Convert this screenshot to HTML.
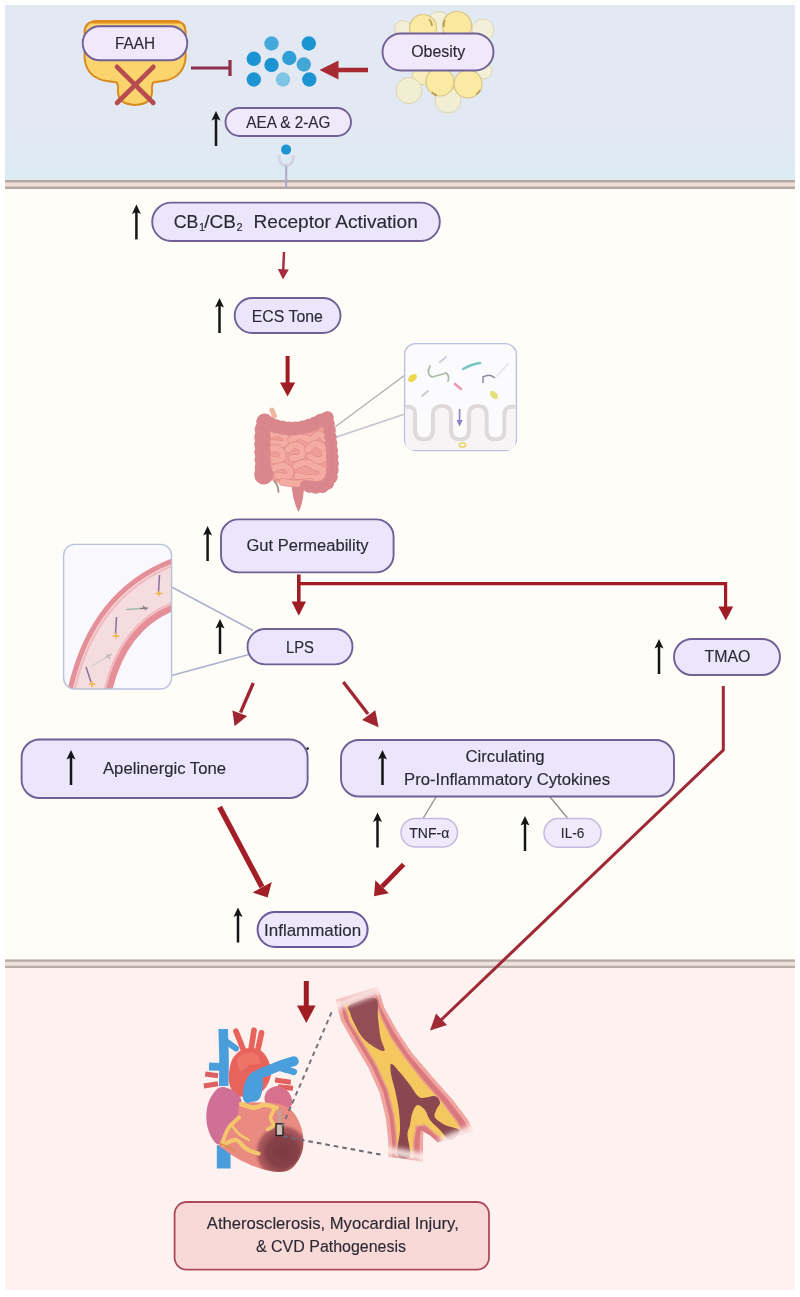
<!DOCTYPE html>
<html lang="en">
<head>
<meta charset="utf-8">
<title>Endocannabinoid system, gut permeability and CVD pathogenesis</title>
<style>
html,body{margin:0;padding:0;background:#fff;}
body{width:800px;height:1297px;overflow:hidden;}
svg{display:block;font-family:"Liberation Sans",sans-serif;filter:blur(.5px);}
.lbl{fill:#2b2a33;text-anchor:middle;stroke:#2b2a33;stroke-width:.14px;}
.pill{fill:#ebe6fb;stroke:#716096;stroke-width:1.9;}
.pill2{fill:#efeafb;stroke:#c3badf;stroke-width:1.5;}
.up{stroke:#151515;stroke-width:2.6;fill:none;}
.uph{fill:#151515;}
.red{stroke:#9f2430;fill:none;}
.redh{fill:#9f2430;}
</style>
</head>
<body>
<svg width="800" height="1297" viewBox="0 0 800 1297">
<defs>
  <linearGradient id="skyG" x1="0" y1="0" x2="0" y2="1"><stop offset="0" stop-color="#e2e9f2"/><stop offset=".7" stop-color="#e2e9f2"/><stop offset="1" stop-color="#dcebf3"/></linearGradient>
  <symbol id="upArrow" overflow="visible">
    <path d="M0 35 L0 6" stroke="#151515" stroke-width="2.5" fill="none"/>
    <path d="M-4.5 9.6 L0 0 L4.5 9.6 L0 7.6 Z" fill="#151515"/>
  </symbol>
  <filter id="soft1" x="-30%" y="-30%" width="160%" height="160%"><feGaussianBlur stdDeviation="1.6"/></filter>
  <filter id="soft" x="-20%" y="-20%" width="140%" height="140%"><feGaussianBlur stdDeviation="0.7"/></filter>
</defs>

<!-- ===== backgrounds ===== -->
<g id="bg">
  <rect x="0" y="0" width="800" height="1297" fill="#ffffff"/>
  <rect x="5" y="5" width="790" height="176" fill="url(#skyG)"/>
  <rect x="5" y="188" width="790" height="772" fill="#fffdf8"/>
  <rect x="5" y="967" width="790" height="323" fill="#fef2f0"/>
  <!-- membranes -->
  <rect x="5" y="180" width="790" height="9" fill="#f1dcd6"/>
  <rect x="5" y="180" width="790" height="2.4" fill="#b3a6a3"/>
  <rect x="5" y="186.6" width="790" height="2.4" fill="#b3a6a3"/>
  <rect x="5" y="959" width="790" height="9" fill="#efe1dc"/>
  <rect x="5" y="959.6" width="790" height="2.2" fill="#b8aca8"/>
  <rect x="5" y="965.8" width="790" height="2.2" fill="#b8aca8"/>
</g>

<!-- ===== TOP: FAAH, endocannabinoids, obesity ===== -->
<g id="faah">
  <path d="M96 21 H176 Q185.6 22 185.6 32 V58 Q184 76 166 80.6 L153 82.6 Q151.5 86 152 91 Q152.5 104 135 105 Q117.5 104 118 91 Q118.5 86 117 82.6 L104 80.6 Q86 76 84.6 58 V32 Q84.6 22 96 21 Z" fill="#fbd46e" stroke="#d88a1e" stroke-width="2" stroke-linejoin="round"/>
  <path d="M93 22 H179" stroke="#e28c1c" stroke-width="3" fill="none" stroke-linecap="round"/>
  <rect class="pill" x="82.7" y="26.2" width="104.6" height="34" rx="17" style="fill:#f2e8fb"/>
  <text class="lbl" x="135" y="49.3" font-size="16" textLength="40" lengthAdjust="spacingAndGlyphs">FAAH</text>
  <path d="M117 66.8 L153.4 103 M153.4 66.8 L117 103" stroke="#b64b50" stroke-width="4.6" stroke-linecap="round" fill="none"/>
</g>
<g id="inhibit">
  <path d="M191 68 H229" stroke="#8e2f4c" stroke-width="2.8" fill="none"/>
  <path d="M230 60 V76" stroke="#8e2f4c" stroke-width="3.2" fill="none"/>
</g>
<g id="dots">
  <circle cx="271.5" cy="43.5" r="7.2" fill="#45a9dc"/>
  <circle cx="308.8" cy="43.5" r="7.2" fill="#1c93d2"/>
  <circle cx="253.8" cy="58.8" r="7.2" fill="#1c93d2"/>
  <circle cx="271.5" cy="65" r="7.2" fill="#1c93d2"/>
  <circle cx="289.3" cy="58" r="7.2" fill="#2f9fd6"/>
  <circle cx="303.8" cy="64.5" r="7.2" fill="#43a7d6"/>
  <circle cx="253.8" cy="79.5" r="7.2" fill="#1c93d2"/>
  <circle cx="283" cy="79.5" r="7.2" fill="#7fc3e6"/>
  <circle cx="309.3" cy="79.5" r="7.2" fill="#1c93d2"/>
</g>
<g id="obArrow">
  <path d="M368 70 H334" stroke="#a62a30" stroke-width="4.6" fill="none"/>
  <path d="M319.5 70 L338.5 60.5 L338.5 79.5 Z" fill="#a62a30"/>
</g>
<g id="fat">
  <circle cx="403" cy="29" r="8.5" fill="#f3efd6" stroke="#ddd5b4" stroke-width="1"/>
  <circle cx="439" cy="23" r="11.5" fill="#f3efd8" stroke="#ddd5b4" stroke-width="1"/>
  <circle cx="483" cy="30" r="11" fill="#f3efd8" stroke="#ddd5b4" stroke-width="1"/>
  <circle cx="423" cy="28" r="13.5" fill="#fbeaa3" stroke="#d8c588" stroke-width="1.2"/>
  <circle cx="457" cy="26" r="14.5" fill="#fbe9a0" stroke="#d8c588" stroke-width="1.2"/>
  <circle cx="484" cy="71" r="8" fill="#f3efd8" stroke="#ddd5b4" stroke-width="1"/>
  <circle cx="421" cy="76" r="9" fill="#f7ecbc" stroke="#ddd0a0" stroke-width="1"/>
  <circle cx="448" cy="100" r="13" fill="#f1eed4" stroke="#ddd5b4" stroke-width="1"/>
  <circle cx="409" cy="90.5" r="13" fill="#f1eed2" stroke="#d9d2b0" stroke-width="1"/>
  <circle cx="440" cy="82" r="14" fill="#fbeaa3" stroke="#d8c588" stroke-width="1.2"/>
  <circle cx="468" cy="84" r="14" fill="#fbeaa3" stroke="#d8c588" stroke-width="1.2"/>
  <path d="M429 19 q3 3 3 7" stroke="#b89c55" stroke-width="1.6" fill="none"/>
  <path d="M445 20 q-2 3 -1 7" stroke="#b89c55" stroke-width="1.6" fill="none"/>
  <path d="M432 92 q2 3 5 3" stroke="#b89c55" stroke-width="1.6" fill="none"/>
  <path d="M476 94 q3 -1 4 -4" stroke="#b89c55" stroke-width="1.6" fill="none"/>
  <rect class="pill" x="382.5" y="33.5" width="111" height="37" rx="18.5" style="fill:#f2e8fb"/>
  <text class="lbl" x="438.2" y="57" font-size="16.2" textLength="54" lengthAdjust="spacingAndGlyphs">Obesity</text>
</g>
<g id="aea">
  <rect class="pill" x="225.5" y="108" width="125.5" height="28" rx="14" style="fill:#f0e8fb"/>
  <text class="lbl" x="288.3" y="127.6" font-size="16" textLength="84" lengthAdjust="spacingAndGlyphs">AEA &amp; 2-AG</text>
  <use href="#upArrow" x="216" y="111"/>
  <circle cx="286.1" cy="149.6" r="5" fill="#1d94d3"/>
  <path d="M279 156.5 Q279.5 165.5 286.2 165.5 Q293 165.5 293.5 156.5" fill="none" stroke="#d3d3e5" stroke-width="3" stroke-linecap="round"/>
  <path d="M286.2 166 V188.5" stroke="#a9a9c9" stroke-width="2" fill="none"/>
</g>
<!-- SECTION:TOP-END -->
<!-- ===== MID: receptor activation, ECS tone, gut ===== -->
<g id="cb">
  <use href="#upArrow" x="136.4" y="204.4"/>
  <rect class="pill" x="152.2" y="202.6" width="287.6" height="38.4" rx="19.2"/>
  <text class="lbl" y="227.7" font-size="19" style="text-anchor:start" xml:space="preserve"><tspan x="173.8" textLength="24.6" lengthAdjust="spacingAndGlyphs">CB</tspan><tspan x="199" dy="3.4" font-size="11">1</tspan><tspan x="204.2" dy="-3.4" textLength="31.6" lengthAdjust="spacingAndGlyphs">/CB</tspan><tspan x="236.6" dy="3.4" font-size="11">2</tspan><tspan dy="-3.4"> </tspan><tspan x="253.6" textLength="164.2" lengthAdjust="spacingAndGlyphs">Receptor Activation</tspan></text>
  <path d="M284 252 L283.2 271" stroke="#a52d40" stroke-width="2.5" fill="none"/>
  <path d="M277.8 269 L283 279.6 L288.8 269.4 Z" fill="#a52d40"/>
</g>
<g id="ecs">
  <use href="#upArrow" x="219.5" y="298"/>
  <rect class="pill" x="234.7" y="298" width="105.8" height="35" rx="17.5"/>
  <text class="lbl" x="287.3" y="321.8" font-size="16" textLength="71" lengthAdjust="spacingAndGlyphs">ECS Tone</text>
  <path d="M287.6 356 V385" stroke="#a01c25" stroke-width="4" fill="none"/>
  <path d="M280 382.5 L295.2 382.5 L287.6 396.5 Z" fill="#a01c25"/>
</g>
<g id="gutlines">
  <path d="M335 427 L405 375" stroke="#b2b1b6" stroke-width="1.4" fill="none"/>
  <path d="M335 437.5 L405 414" stroke="#c4c3cb" stroke-width="1.4" fill="none"/>
</g>
<g id="gut">
  <path d="M 271.9 410.0 L 274.4 416.2" stroke="#f0b6a0" stroke-width="5" stroke-linecap="round" fill="none"/>
  <path d="M 291.2 481.2 L 303.8 481.2 Q 304.8 500.0 298.5 512.0 Q 292.2 500.0 291.2 481.2 Z" fill="#d9868c"/>
  <path d="M 263.8 428.8 Q 295.0 441.2 326.2 425.0 L 331.2 477.5 Q 315.0 487.5 295.0 485.0 Q 276.2 485.0 265.0 476.2 Z" fill="#ee9f98"/>
  <path d="M266.9 437.5 C268.4 436.8 273.0 433.1 276.2 433.1 C279.4 433.1 284.9 435.7 286.2 437.5 C287.5 439.3 286.1 442.9 283.8 443.8 C281.5 444.7 274.4 443.2 272.5 443.1" fill="none" stroke="#e3908a" stroke-width="7.800000000000001" stroke-linecap="round" stroke-linejoin="round"/><path d="M266.9 437.5 C268.4 436.8 273.0 433.1 276.2 433.1 C279.4 433.1 284.9 435.7 286.2 437.5 C287.5 439.3 286.1 442.9 283.8 443.8 C281.5 444.7 274.4 443.2 272.5 443.1" fill="none" stroke="#f4aca2" stroke-width="6.2" stroke-linecap="round" stroke-linejoin="round"/><path d="M291.2 440.0 C292.7 439.3 296.9 435.6 300.0 435.6 C303.1 435.6 306.9 440.2 310.0 440.0 C313.1 439.8 316.3 434.6 318.8 434.4 C321.3 434.2 324.0 438.1 325.0 438.8" fill="none" stroke="#e3908a" stroke-width="7.800000000000001" stroke-linecap="round" stroke-linejoin="round"/><path d="M291.2 440.0 C292.7 439.3 296.9 435.6 300.0 435.6 C303.1 435.6 306.9 440.2 310.0 440.0 C313.1 439.8 316.3 434.6 318.8 434.4 C321.3 434.2 324.0 438.1 325.0 438.8" fill="none" stroke="#f4aca2" stroke-width="6.2" stroke-linecap="round" stroke-linejoin="round"/><path d="M268.1 451.2 C269.2 450.7 272.6 447.9 275.0 448.1 C277.4 448.3 281.6 450.5 282.5 452.5 C283.4 454.5 282.6 458.9 280.6 460.0 C278.6 461.1 272.3 459.5 270.6 459.4" fill="none" stroke="#e3908a" stroke-width="7.800000000000001" stroke-linecap="round" stroke-linejoin="round"/><path d="M268.1 451.2 C269.2 450.7 272.6 447.9 275.0 448.1 C277.4 448.3 281.6 450.5 282.5 452.5 C283.4 454.5 282.6 458.9 280.6 460.0 C278.6 461.1 272.3 459.5 270.6 459.4" fill="none" stroke="#f4aca2" stroke-width="6.2" stroke-linecap="round" stroke-linejoin="round"/><path d="M288.1 449.4 C289.2 448.7 292.6 445.0 295.0 445.0 C297.4 445.0 301.6 447.4 302.5 449.4 C303.4 451.4 302.3 455.4 300.6 456.9 C298.9 458.3 293.9 457.9 292.5 458.1" fill="none" stroke="#e3908a" stroke-width="7.800000000000001" stroke-linecap="round" stroke-linejoin="round"/><path d="M288.1 449.4 C289.2 448.7 292.6 445.0 295.0 445.0 C297.4 445.0 301.6 447.4 302.5 449.4 C303.4 451.4 302.3 455.4 300.6 456.9 C298.9 458.3 293.9 457.9 292.5 458.1" fill="none" stroke="#f4aca2" stroke-width="6.2" stroke-linecap="round" stroke-linejoin="round"/><path d="M308.1 449.4 C309.2 448.5 312.5 444.0 315.0 443.8 C317.5 443.6 321.4 445.9 323.1 448.1 C324.8 450.3 325.9 454.8 325.0 456.9 C324.1 459.0 319.9 460.6 317.5 460.6 C315.1 460.6 311.8 457.5 310.6 456.9" fill="none" stroke="#e3908a" stroke-width="7.800000000000001" stroke-linecap="round" stroke-linejoin="round"/><path d="M308.1 449.4 C309.2 448.5 312.5 444.0 315.0 443.8 C317.5 443.6 321.4 445.9 323.1 448.1 C324.8 450.3 325.9 454.8 325.0 456.9 C324.1 459.0 319.9 460.6 317.5 460.6 C315.1 460.6 311.8 457.5 310.6 456.9" fill="none" stroke="#f4aca2" stroke-width="6.2" stroke-linecap="round" stroke-linejoin="round"/><path d="M273.1 468.8 C274.7 468.3 279.7 465.3 282.5 465.6 C285.3 465.9 289.2 468.7 290.0 470.6 C290.8 472.5 289.6 476.1 287.5 476.9 C285.4 477.7 279.2 475.8 277.5 475.6" fill="none" stroke="#e3908a" stroke-width="7.800000000000001" stroke-linecap="round" stroke-linejoin="round"/><path d="M273.1 468.8 C274.7 468.3 279.7 465.3 282.5 465.6 C285.3 465.9 289.2 468.7 290.0 470.6 C290.8 472.5 289.6 476.1 287.5 476.9 C285.4 477.7 279.2 475.8 277.5 475.6" fill="none" stroke="#f4aca2" stroke-width="6.2" stroke-linecap="round" stroke-linejoin="round"/><path d="M295.6 466.2 C297.2 465.6 301.8 462.4 305.0 462.5 C308.2 462.6 312.0 465.6 315.0 466.9 C318.0 468.1 322.3 468.3 323.1 470.0 C323.9 471.7 322.6 475.5 320.0 476.9 C317.4 478.2 311.2 478.3 307.5 478.1 C303.8 477.9 299.2 476.0 297.5 475.6" fill="none" stroke="#e3908a" stroke-width="7.800000000000001" stroke-linecap="round" stroke-linejoin="round"/><path d="M295.6 466.2 C297.2 465.6 301.8 462.4 305.0 462.5 C308.2 462.6 312.0 465.6 315.0 466.9 C318.0 468.1 322.3 468.3 323.1 470.0 C323.9 471.7 322.6 475.5 320.0 476.9 C317.4 478.2 311.2 478.3 307.5 478.1 C303.8 477.9 299.2 476.0 297.5 475.6" fill="none" stroke="#f4aca2" stroke-width="6.2" stroke-linecap="round" stroke-linejoin="round"/><path d="M282.5 481.9 C284.6 482.2 290.4 483.5 295.0 483.5 C299.6 483.5 307.5 482.2 310.0 481.9" fill="none" stroke="#e3908a" stroke-width="7.800000000000001" stroke-linecap="round" stroke-linejoin="round"/><path d="M282.5 481.9 C284.6 482.2 290.4 483.5 295.0 483.5 C299.6 483.5 307.5 482.2 310.0 481.9" fill="none" stroke="#f4aca2" stroke-width="6.2" stroke-linecap="round" stroke-linejoin="round"/>
  <path d="M 274.4 481.2 Q 278.1 485.0 278.5 491.9" stroke="#a38d84" stroke-width="1.8" fill="none" stroke-linecap="round"/>
  <g fill="none" stroke="#d9868c" stroke-linecap="round" stroke-linejoin="round">
    <path d="M 263.1 475.0 L 262.5 447.5 Q 261.9 425.0 265.0 421.2" stroke-width="13.5"/>
    <path d="M 263.1 475.0 L 262.5 447.5 Q 261.9 425.0 265.0 421.2" stroke-width="16.5" stroke-dasharray="0.1 7.5"/>
    <path d="M 263.8 473.8 L 263.8 475.0" stroke-width="19"/>
    <path d="M 263.8 421.2 Q 295.0 437.5 326.2 417.5" stroke-width="11.5"/>
    <path d="M 263.8 421.2 Q 295.0 437.5 326.2 417.5" stroke-width="14" stroke-dasharray="0.1 6.5"/>
    <path d="M 327.5 417.5 Q 331.2 437.5 332.5 460.0 Q 333.1 470.0 331.2 477.5" stroke-width="10"/>
    <path d="M 327.5 417.5 Q 331.2 437.5 332.5 460.0 Q 333.1 470.0 331.2 477.5" stroke-width="12.5" stroke-dasharray="0.1 6.5"/>
    <path d="M 331.2 477.5 Q 327.5 487.5 317.5 487.5 Q 310.0 487.5 305.0 485.0" stroke-width="10"/>
    <path d="M 331.2 477.5 Q 327.5 487.5 317.5 487.5 Q 310.0 487.5 305.0 485.0" stroke-width="12.5" stroke-dasharray="0.1 6.5"/>
  </g>
  <g fill="none" stroke="#c9747c" stroke-linecap="round" opacity=".3" stroke-width="1.1" stroke-dasharray="3 4.5">
    <path d="M 263.1 475.0 L 262.5 447.5 Q 261.9 425.0 265.0 421.2"/><path d="M 263.8 421.2 Q 295.0 437.5 326.2 417.5"/><path d="M 327.5 417.5 Q 331.2 437.5 332.5 460.0 Q 333.1 470.0 331.2 477.5"/><path d="M 331.2 477.5 Q 327.5 487.5 317.5 487.5 Q 310.0 487.5 305.0 485.0"/>
  </g>
</g>
<g id="microbiome">
  <rect x="404.6" y="343.6" width="111.8" height="107" rx="11" fill="#fbfafc" stroke="#b9c1dc" stroke-width="1.4"/>
  <path d="M405.5 407 Q415 405 415 415 V430 Q415 439.5 424 439.5 Q433 439.5 433 430 V415 Q433 406 442 406 Q451 406 451 415 V430 Q451 439.5 460 439.5 Q469 439.5 469 430 V415 Q469 406 478 406 Q486.5 406 486.5 415 V430 Q486.5 439.5 495.5 439.5 Q504.5 439.5 504.5 430 V415 Q504.5 405 515.5 407" fill="none" stroke="#dedada" stroke-width="4.2"/>
  <path d="M405.5 409 Q413 409 413 417 V432 Q413 441.5 424 441.5 Q435 441.5 435 432 V417 Q435 408 442 408 Q449 408 449 417 V432 Q449 441.5 460 441.5 Q471 441.5 471 432 V417 Q471 408 478 408 Q484.5 408 484.5 417 V432 Q484.5 441.5 495.5 441.5 Q506.5 441.5 506.5 432 V417 Q506.5 409 515.5 409 V444 Q515.5 450 509 450 H412 Q405.5 450 405.5 444 Z" fill="#f8f4f6" stroke="none"/>
  <ellipse cx="412.5" cy="378" rx="5" ry="3.2" transform="rotate(-40 412.5 378)" fill="#ecd64a"/>
  <path d="M430 366 Q426 374 432 377 Q440 375 446 373 Q450 376 448 381" fill="none" stroke="#a9bfa6" stroke-width="1.8" stroke-linecap="round"/>
  <path d="M463 369 Q472 364 480 363" fill="none" stroke="#79c5c3" stroke-width="2.4" stroke-linecap="round"/>
  <path d="M440 362 L446 357" stroke="#d0cfe0" stroke-width="2.2" stroke-linecap="round"/>
  <path d="M455 384 L461 389" stroke="#ee9ab4" stroke-width="2.6" stroke-linecap="round"/>
  <path d="M422 396 L428 391" stroke="#c9c7c9" stroke-width="1.8" stroke-linecap="round"/>
  <path d="M483 383 V377 Q490 373 495 378" fill="none" stroke="#8e8aa3" stroke-width="1.5"/>
  <path d="M497 376 L508 364" stroke="#e3e3ea" stroke-width="1.8" stroke-linecap="round"/>
  <ellipse cx="494" cy="395" rx="5" ry="3" transform="rotate(50 494 395)" fill="#e3df7a"/>
  <path d="M459.6 409 V421" stroke="#8d82bd" stroke-width="1.6" fill="none"/>
  <path d="M456.6 420 L462.6 420 L459.6 426.5 Z" fill="#8d82bd"/>
  <ellipse cx="462.5" cy="445" rx="3.2" ry="2.2" fill="none" stroke="#e6cf52" stroke-width="1.3"/>
</g>
<g id="gp">
  <use href="#upArrow" x="207.6" y="526"/>
  <rect class="pill" x="221" y="519.4" width="172.6" height="53" rx="17.5"/>
  <text class="lbl" x="307.5" y="551.4" font-size="16" textLength="122" lengthAdjust="spacingAndGlyphs">Gut Permeability</text>
  <path d="M298.8 574.5 V604" stroke="#a01c25" stroke-width="3.6" fill="none"/>
  <path d="M291.6 601.5 L306 601.5 L298.8 615.8 Z" fill="#a01c25"/>
  <path d="M298.8 583.6 H725.6 V608" stroke="#a01c25" stroke-width="3.2" fill="none"/>
  <path d="M718.4 606.5 L733.2 606.5 L725.8 620.5 Z" fill="#a01c25"/>
</g>
<g id="lps">
  <path d="M171.6 587 L253 630.5" stroke="#a9b1cf" stroke-width="1.5" fill="none"/>
  <path d="M171.6 675.5 L249 654.5" stroke="#a9b1cf" stroke-width="1.5" fill="none"/>
  <use href="#upArrow" x="220" y="619"/>
  <rect class="pill" x="247.5" y="629" width="105" height="35.4" rx="17.7"/>
  <text class="lbl" x="300" y="652.6" font-size="16" textLength="28" lengthAdjust="spacingAndGlyphs">LPS</text>
  <path d="M253.3 683 L240.5 712.5" stroke="#a02532" stroke-width="3.3" fill="none"/>
  <path d="M232.4 710.5 L234.6 726.3 L247.2 716 Z" fill="#a02532"/>
  <path d="M343.3 682 L368 714" stroke="#a02532" stroke-width="3.3" fill="none"/>
  <path d="M362 720 L378.6 727.2 L375.3 710.3 Z" fill="#a02532"/>
</g>
<g id="vessel">
  <clipPath id="vclip"><rect x="63.6" y="544.4" width="108" height="144.6" rx="11"/></clipPath>
  <rect x="63.6" y="544.4" width="108" height="144.6" rx="11" fill="#f9f8fd"/>
  <g clip-path="url(#vclip)">
    <path d="M68 690 Q90 590 172 559 L172 611 Q125 630 111 690 Z" fill="#f5dcde"/>
    <path d="M70 690 Q92 592 172 561" fill="none" stroke="#e58f98" stroke-width="5"/>
    <path d="M74.5 690 Q96 597 172 566" fill="none" stroke="#f1b9bd" stroke-width="2"/>
    <path d="M109 690 Q124 628 172 608" fill="none" stroke="#e58f98" stroke-width="6.5"/>
    <path d="M104.5 690 Q120 624 172 603" fill="none" stroke="#f1b9bd" stroke-width="2"/>
    <path d="M159.5 575 L158.5 592" stroke="#8a6f9e" stroke-width="1.5"/>
    <path d="M155.5 593.5 H162.5 M159 591 V596" stroke="#eab94a" stroke-width="1.6"/>
    <path d="M116.5 617 L115.5 634" stroke="#8a6f9e" stroke-width="1.5"/>
    <path d="M112.5 636 H119.5 M116 633 V638.5" stroke="#eab94a" stroke-width="1.6"/>
    <path d="M86 667 L91 682" stroke="#8a6f9e" stroke-width="1.5"/>
    <path d="M89 684 H95.5 M92 681 V687" stroke="#eab94a" stroke-width="1.6"/>
    <path d="M126 609.5 L141 608.5" stroke="#a3bcae" stroke-width="1.5"/>
    <path d="M140 608.5 L148 608 M143 606 L146 610" stroke="#7f7f86" stroke-width="1.3"/>
    <path d="M92 666 L105 658" stroke="#d0cdd2" stroke-width="1.3"/>
    <path d="M105 658 L112 654 M107 654 L110 659" stroke="#b5b2b8" stroke-width="1.2"/>
  </g>
  <rect x="63.6" y="544.4" width="108" height="144.6" rx="11" fill="none" stroke="#b9c1dc" stroke-width="1.4"/>
</g>
<g id="tmao">
  <use href="#upArrow" x="659" y="639"/>
  <rect class="pill" x="674" y="639" width="106" height="36" rx="18"/>
  <text class="lbl" x="727.5" y="662.4" font-size="16" textLength="46" lengthAdjust="spacingAndGlyphs">TMAO</text>
  <path d="M723.3 686 V750 L440 1021" stroke="#9f2a35" stroke-width="3" fill="none" stroke-linejoin="miter"/>
  <path d="M430 1030.6 L436 1013.5 L447 1025 Z" fill="#9f2a35"/>
</g>
<!-- SECTION:MID-END -->
<!-- ===== LOW: apelinergic tone, cytokines, inflammation ===== -->
<g id="apelin">
  <rect class="pill" x="21.6" y="739.5" width="286" height="58.5" rx="18"/>
  <circle cx="307.6" cy="748.6" r="1.3" fill="#222"/>
  <use href="#upArrow" x="71" y="750"/>
  <text class="lbl" x="164.5" y="773.6" font-size="16" textLength="123" lengthAdjust="spacingAndGlyphs">Apelinergic Tone</text>
  <path d="M219.6 807 L262 887" stroke="#a31f27" stroke-width="5.4" fill="none"/>
  <path d="M252.5 892.5 L267.6 897.6 L271.8 882 Z" fill="#a31f27"/>
</g>
<g id="cyto">
  <path d="M436 797 L423 818.5" stroke="#8f8c90" stroke-width="1.3" fill="none"/>
  <path d="M550 797 L567.5 818" stroke="#8f8c90" stroke-width="1.3" fill="none"/>
  <rect class="pill" x="341" y="740" width="333" height="56.5" rx="18"/>
  <use href="#upArrow" x="382.5" y="750"/>
  <text class="lbl" x="505" y="762.4" font-size="16" textLength="79" lengthAdjust="spacingAndGlyphs">Circulating</text>
  <text class="lbl" x="507" y="785.4" font-size="16" textLength="206" lengthAdjust="spacingAndGlyphs">Pro-Inflammatory Cytokines</text>
  <use href="#upArrow" x="377.5" y="812.5"/>
  <rect class="pill2" x="401" y="818.4" width="56.5" height="28.6" rx="14.3"/>
  <text class="lbl" x="429.3" y="837.6" font-size="14.6" textLength="40" lengthAdjust="spacingAndGlyphs">TNF-α</text>
  <use href="#upArrow" x="525" y="816"/>
  <rect class="pill2" x="544" y="818.6" width="57" height="28.6" rx="14.3"/>
  <text class="lbl" x="572.6" y="837.8" font-size="14.6" textLength="23.5" lengthAdjust="spacingAndGlyphs">IL-6</text>
  <path d="M403.6 864.4 L382 886.6" stroke="#a31f27" stroke-width="4.8" fill="none"/>
  <path d="M374 896.2 L375.3 880.3 L388.8 893.2 Z" fill="#a31f27"/>
</g>
<g id="inflam">
  <use href="#upArrow" x="238" y="907.5"/>
  <rect x="257.6" y="912" width="110" height="35" rx="17.5" fill="#ece7fb" stroke="#6a589c" stroke-width="2"/>
  <text class="lbl" x="312.6" y="936" font-size="16.4" textLength="97" lengthAdjust="spacingAndGlyphs">Inflammation</text>
</g>
<!-- SECTION:LOW-END -->
<!-- ===== BOTTOM: heart, artery, outcome ===== -->
<g id="down2">
  <path d="M306.3 981 V1008" stroke="#a01c25" stroke-width="5" fill="none"/>
  <path d="M297 1005.5 L315.6 1005.5 L306.3 1023 Z" fill="#a01c25"/>
</g>
<g id="heart" filter="url(#soft)">
  <path d="M205.2 1074.0 L218.0 1075.8 M203.8 1086.0 L218.0 1083.8" stroke="#dc5f62" stroke-width="5.1" fill="none"/>
  <path d="M275.0 1080.0 L290.8 1082.2 M278.0 1086.8 L293.0 1088.2" stroke="#e0605c" stroke-width="5.1" fill="none"/>
  <path d="M223.7 1145.2 L223.7 1168.5" stroke="#4c9edc" stroke-width="13.8" fill="none"/>
  <path d="M236.0 1031.2 L243.5 1050.0 M254.0 1030.2 L251.0 1050.0 M261.5 1032.8 L257.8 1050.0" stroke="#e8645c" stroke-width="5.7" stroke-linecap="round" fill="none"/>
  <path d="M234.5 1056.0 C237.0 1053.0 240.8 1049.5 245.0 1048.5 C249.2 1047.5 256.0 1047.8 260.0 1050.0 C264.0 1052.2 267.2 1057.5 269.0 1062.0 C270.8 1066.5 271.5 1072.2 270.5 1077.0 C269.5 1081.8 266.5 1087.2 263.0 1090.5 C259.5 1093.8 254.0 1095.8 249.5 1096.5 C245.0 1097.2 239.4 1097.2 236.0 1095.0 C232.6 1092.8 230.2 1087.8 229.2 1083.0 C228.2 1078.2 229.1 1071.0 230.0 1066.5 C230.9 1062.0 232.0 1059.0 234.5 1056.0 Z" fill="#e8645c"/>
  <path d="M237.5 1059.0 C238.5 1056.0 243.2 1053.8 246.5 1053.0 C249.8 1052.2 254.8 1052.8 257.0 1054.5 C259.2 1056.2 261.2 1061.8 260.0 1063.5 C258.8 1065.2 252.8 1063.8 249.5 1065.0 C246.2 1066.2 242.5 1072.0 240.5 1071.0 C238.5 1070.0 236.5 1062.0 237.5 1059.0 Z" fill="#ef7b6c" opacity=".7"/>
  <path d="M223.2 1029.0 C223.3 1033.8 223.9 1048.0 224.0 1057.5 C224.1 1067.0 223.8 1081.2 223.7 1086.0" stroke="#4c9edc" stroke-width="9.6" fill="none"/>
  <path d="M209.0 1066.5 L222.5 1066.8" stroke="#4c9edc" stroke-width="7.8" fill="none"/>
  <path d="M227.8 1042.5 L236.0 1048.5" stroke="#4c9edc" stroke-width="6.0" fill="none" stroke-linecap="round"/>
  <path d="M219.5 1087.5 C223.5 1085.8 229.4 1088.5 233.0 1090.5 C236.6 1092.5 240.1 1095.2 241.2 1099.5 C242.3 1103.8 241.7 1110.8 239.8 1116.0 C237.9 1121.2 233.4 1126.2 230.0 1131.0 C226.6 1135.8 222.8 1143.8 219.5 1144.5 C216.2 1145.2 212.7 1139.8 210.5 1135.5 C208.3 1131.2 206.6 1124.8 206.3 1119.0 C206.1 1113.2 206.8 1106.2 209.0 1101.0 C211.2 1095.8 215.5 1089.2 219.5 1087.5 Z" fill="#d06f96"/>
  <path d="M267.5 1090.5 C269.8 1088.2 274.5 1085.8 278.0 1086.0 C281.5 1086.2 286.1 1089.0 288.5 1092.0 C290.9 1095.0 292.9 1101.0 292.2 1104.0 C291.4 1107.0 287.9 1109.5 284.0 1110.0 C280.1 1110.5 272.2 1108.8 269.0 1107.0 C265.8 1105.2 264.8 1102.2 264.5 1099.5 C264.2 1096.8 265.2 1092.8 267.5 1090.5 Z" fill="#d8718e"/>
  <path d="M240.5 1104.0 C244.2 1101.8 252.8 1102.2 260.0 1102.5 C267.2 1102.8 278.0 1103.2 284.0 1105.5 C290.0 1107.8 292.9 1111.2 296.0 1116.0 C299.1 1120.8 301.8 1128.0 302.8 1134.0 C303.8 1140.0 303.6 1146.5 302.0 1152.0 C300.4 1157.5 296.4 1163.7 293.0 1167.0 C289.6 1170.3 286.8 1171.4 281.8 1171.8 C276.8 1172.2 269.6 1171.0 263.0 1169.2 C256.4 1167.4 248.2 1164.1 242.0 1161.0 C235.8 1157.9 229.3 1153.4 225.5 1150.5 C221.7 1147.6 218.4 1147.5 219.2 1143.8 C219.9 1140.0 226.9 1132.6 230.0 1128.0 C233.1 1123.4 235.8 1120.0 237.5 1116.0 C239.2 1112.0 236.8 1106.2 240.5 1104.0 Z" fill="#ea8b82"/>
  <clipPath id="ventClip"><path d="M240.5 1104.0 C244.2 1101.8 252.8 1102.2 260.0 1102.5 C267.2 1102.8 278.0 1103.2 284.0 1105.5 C290.0 1107.8 292.9 1111.2 296.0 1116.0 C299.1 1120.8 301.8 1128.0 302.8 1134.0 C303.8 1140.0 303.6 1146.5 302.0 1152.0 C300.4 1157.5 296.4 1163.7 293.0 1167.0 C289.6 1170.3 286.8 1171.4 281.8 1171.8 C276.8 1172.2 269.6 1171.0 263.0 1169.2 C256.4 1167.4 248.2 1164.1 242.0 1161.0 C235.8 1157.9 229.3 1153.4 225.5 1150.5 C221.7 1147.6 218.4 1147.5 219.2 1143.8 C219.9 1140.0 226.9 1132.6 230.0 1128.0 C233.1 1123.4 235.8 1120.0 237.5 1116.0 C239.2 1112.0 236.8 1106.2 240.5 1104.0 Z"/></clipPath>
  <radialGradient id="infG" gradientUnits="userSpaceOnUse" cx="282.5" cy="1152.0" r="28.5"><stop offset="0" stop-color="#7c3a40"/><stop offset=".55" stop-color="#874248"/><stop offset=".85" stop-color="#a5545a" stop-opacity=".85"/><stop offset="1" stop-color="#d87a74" stop-opacity="0"/></radialGradient>
  <g clip-path="url(#ventClip)"><circle cx="282.5" cy="1152.0" r="28.5" fill="url(#infG)"/>
  <path d="M286.2 1170.8 C284.9 1169.5 294.7 1166.1 297.5 1162.5 C300.3 1158.9 301.9 1147.8 303.2 1149.0 C304.4 1150.2 307.8 1166.4 305.0 1170.0 C302.2 1173.6 287.4 1172.0 286.2 1170.8 Z" fill="#dc7a72" opacity=".55" filter="url(#soft1)"/></g>
  <g fill="none" stroke="#f4c76c" stroke-linecap="round" stroke-linejoin="round">
    <path d="M241.2 1104.0 C243.3 1104.6 250.1 1107.7 254.0 1107.8 C257.9 1107.9 260.8 1104.8 264.5 1104.8 C268.2 1104.8 274.5 1107.3 276.5 1107.8" stroke-width="4.5"/>
    <path d="M275.0 1108.5 C274.2 1110.0 270.8 1114.8 270.5 1117.5 C270.2 1120.2 274.0 1123.0 273.5 1125.0 C273.0 1127.0 268.5 1128.8 267.5 1129.5" stroke-width="3.6"/>
    <path d="M222.5 1142.2 C223.5 1139.8 225.8 1132.1 228.5 1128.0 C231.2 1123.9 237.2 1119.2 239.0 1117.5" stroke-width="3.9"/>
    <path d="M224.0 1144.5 C226.0 1143.8 232.2 1139.2 236.0 1140.0 C239.8 1140.8 242.8 1146.8 246.5 1149.0 C250.2 1151.2 256.5 1152.8 258.5 1153.5" stroke-width="4.2"/>
    <path d="M231.5 1125.0 C232.8 1126.5 236.0 1131.5 239.0 1134.0 C242.0 1136.5 247.8 1139.0 249.5 1140.0" stroke-width="2.7"/>
  </g>
  <path d="M221.0 1143.8 C222.5 1144.4 227.5 1146.1 230.0 1147.5 C232.5 1148.9 235.0 1151.2 236.0 1152.0" stroke="#d68a2c" stroke-width="1.1" fill="none"/>
  <path d="M237.5 1123.5 C238.8 1124.8 242.8 1128.0 245.0 1131.0 C247.2 1134.0 250.0 1139.8 251.0 1141.5" stroke="#e4866e" stroke-width="1.1" fill="none"/>
  <path d="M248.0 1098.0 C248.2 1095.8 248.0 1088.2 249.5 1084.5 C251.0 1080.8 253.5 1078.0 257.0 1075.5 C260.5 1073.0 266.0 1071.4 270.5 1069.5 C275.0 1067.6 280.1 1065.6 284.0 1064.2 C287.9 1062.8 292.2 1061.7 293.8 1061.2" stroke="#4c9edc" stroke-width="9.9" fill="none" stroke-linecap="round"/>
  <path d="M281.0 1068.0 C282.2 1068.4 286.4 1069.6 288.5 1070.2 C290.6 1070.8 292.9 1071.5 293.8 1071.8" stroke="#4c9edc" stroke-width="6.6" fill="none" stroke-linecap="round"/>
  <path d="M243.5 1099.5 C242.2 1096.6 243.6 1089.0 245.0 1084.5 C246.4 1080.0 249.3 1074.2 251.8 1072.5 C254.3 1070.8 258.1 1072.2 260.0 1074.0 C261.9 1075.8 263.0 1079.0 263.0 1083.0 C263.0 1087.0 261.8 1094.9 260.0 1098.0 C258.2 1101.1 255.2 1101.5 252.5 1101.8 C249.8 1102.0 244.8 1102.4 243.5 1099.5 Z" fill="#4c9edc"/>
  <path d="M279.5 1109.2 L279.5 1123.5" stroke="#b9a7a0" stroke-width="3.0" fill="none"/>
  <rect x="276.1" y="1123.8" width="6.9" height="11.7" fill="#cdbfb3" stroke="#2a1f22" stroke-width="1.4"/>
</g>
<g id="dashes" fill="none" stroke-width="2" stroke-dasharray="4.6 4">
  <path d="M282 1127 L333 1009" stroke="#75757d"/>
  <path d="M283 1136.5 L383 1155" stroke="#6a6a72"/>
</g>
<g id="artery">
  <defs>
    <filter id="soft2" x="-40%" y="-40%" width="180%" height="180%"><feGaussianBlur stdDeviation="2.4"/></filter>
  </defs>
  <g filter="url(#soft)">
    <path d="M336.2 1000.0 L341.2 1020.0 L353.8 1042.5 L368.8 1067.5 L380.0 1092.5 L386.2 1117.5 L388.8 1140.0 L388.8 1156.2 L422.5 1161.2 L422.5 1142.5 L423.0 1125.5 L431.2 1131.2 L440.5 1141.2 L473.0 1130.5 L467.5 1120.0 L452.5 1100.0 L432.5 1077.5 L411.2 1052.5 L396.2 1030.0 L383.8 1007.5 L377.5 987.0 Z" fill="#f1a5a0" stroke="#f1a5a0" stroke-width="1" stroke-linejoin="round"/>
    <path d="M339.5 1000.0 L344.5 1019.5 L357.0 1041.5 L372.0 1066.5 L383.2 1091.5 L389.5 1117.0 L392.0 1140.0 L392.0 1157.0 L419.5 1160.5 L419.5 1142.5 L420.5 1130.0 L430.0 1135.5 L438.0 1142.5 L470.0 1131.5 L464.5 1121.5 L449.5 1101.5 L429.5 1079.0 L408.2 1054.0 L393.2 1031.0 L380.8 1008.0 L374.5 988.0 Z" fill="#d9787d" stroke-linejoin="round"/>
    <path d="M344.5 1005.0 L350.0 1022.5 L362.5 1042.5 L376.2 1065.0 L387.5 1090.0 L393.8 1115.0 L396.2 1135.0 L396.5 1155.0 L413.0 1158.0 L413.8 1140.0 L416.2 1126.2 L425.0 1125.0 L435.0 1133.8 L444.5 1140.5 L462.0 1132.5 L457.5 1122.5 L442.5 1102.5 L422.5 1080.0 L405.0 1057.5 L391.2 1037.5 L381.2 1017.5 L375.0 997.5 Z" fill="#f5c85f" stroke="#eaa08a" stroke-width="1.6" stroke-linejoin="round"/>
    <path d="M349.5 1005.0 C353.7 1002.6 370.2 995.9 375.0 998.0 C379.8 1000.1 377.1 1010.9 378.0 1017.5 C378.9 1024.1 379.4 1032.0 380.5 1037.5 C381.6 1043.0 385.4 1048.8 384.5 1050.5 C383.6 1052.2 378.7 1049.7 375.0 1047.5 C371.3 1045.3 366.0 1041.7 362.5 1037.5 C359.0 1033.3 355.9 1026.7 353.8 1022.5 C351.7 1018.3 350.7 1015.4 350.0 1012.5 C349.3 1009.6 345.3 1007.4 349.5 1005.0 Z" fill="#924d55"/>
    <path d="M391.2 1063.8 C392.7 1063.4 396.9 1069.0 400.0 1072.5 C403.1 1076.0 406.7 1080.8 410.0 1085.0 C413.3 1089.2 415.8 1095.6 420.0 1097.5 C424.2 1099.4 431.7 1095.4 435.0 1096.2 C438.3 1097.0 439.8 1100.2 440.0 1102.5 C440.2 1104.8 437.0 1107.5 436.2 1110.0 C435.4 1112.5 433.5 1115.0 435.0 1117.5 C436.5 1120.0 440.8 1122.8 445.0 1125.0 C449.2 1127.2 459.2 1128.0 460.0 1130.5 C460.8 1133.0 453.3 1140.1 450.0 1140.0 C446.7 1139.9 443.3 1133.3 440.0 1130.0 C436.7 1126.7 432.5 1123.3 430.0 1120.0 C427.5 1116.7 427.1 1112.5 425.0 1110.0 C422.9 1107.5 419.6 1104.6 417.5 1105.0 C415.4 1105.4 413.8 1109.2 412.5 1112.5 C411.2 1115.8 410.8 1121.2 410.0 1125.0 C409.2 1128.8 407.5 1129.8 407.5 1135.0 C407.5 1140.2 411.7 1152.9 410.0 1156.2 C408.3 1159.5 399.2 1159.4 397.5 1155.0 C395.8 1150.6 399.8 1137.5 400.0 1130.0 C400.2 1122.5 399.6 1116.7 398.8 1110.0 C398.0 1103.3 396.3 1095.8 395.0 1090.0 C393.7 1084.2 391.8 1079.4 391.2 1075.0 C390.6 1070.6 389.7 1064.2 391.2 1063.8 Z" fill="#8a4650"/>
  </g>
  <!-- faded vessel ends -->
  <path d="M328 1004 L380 982 L383 993 L334 1011 Z" fill="#fef2f0" opacity=".85" filter="url(#soft2)"/>
  <path d="M382 1153 L428 1163 L428 1154 L384 1146 Z" fill="#fef2f0" opacity=".9" filter="url(#soft2)"/>
  <path d="M442 1147 L480 1131 L475 1123 L438 1139 Z" fill="#fef2f0" opacity=".9" filter="url(#soft2)"/>
</g>
<g id="outcome">
  <rect x="174.6" y="1202" width="314.4" height="67.6" rx="12" fill="#f8d9d8" stroke="#ac4a5c" stroke-width="1.8"/>
  <text class="lbl" x="332.8" y="1229.3" font-size="16.2" textLength="252" lengthAdjust="spacingAndGlyphs">Atherosclerosis, Myocardial Injury,</text>
  <text class="lbl" x="331" y="1251.8" font-size="16.2" textLength="150" lengthAdjust="spacingAndGlyphs">&amp; CVD Pathogenesis</text>
</g>
<!-- SECTION:BOTTOM-END -->

</svg>
</body>
</html>
